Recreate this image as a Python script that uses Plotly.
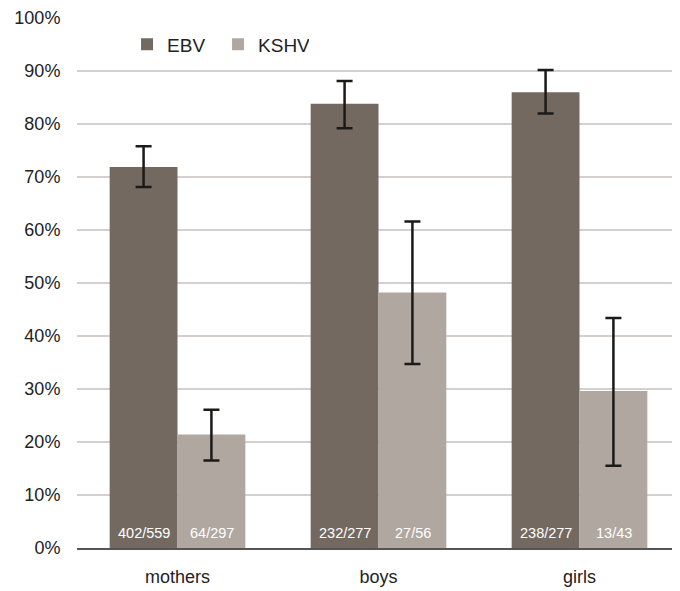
import plotly.graph_objects as go

categories = ["mothers", "boys", "girls"]
ebv_values = [71.9, 83.8, 86.0]
ebv_upper = [75.8, 88.1, 90.2]
ebv_lower = [68.1, 79.2, 82.0]
ebv_labels = ["402/559", "232/277", "238/277"]
kshv_values = [21.4, 48.2, 29.6]
kshv_upper = [26.1, 61.6, 43.4]
kshv_lower = [16.5, 34.7, 15.5]
kshv_labels = ["64/297", "27/56", "13/43"]
y_ticks = [0, 10, 20, 30, 40, 50, 60, 70, 80, 90, 100]
y_tick_labels = [f"{v}%" for v in y_ticks]

FONT = "Liberation Sans, Arial, Helvetica, sans-serif"
EBV_COLOR = "#736961"
KSHV_COLOR = "#b0a7a1"
ERR_COLOR = "#1c1a19"


def make_bar(name, vals, up, lo, color):
    return go.Bar(
        name=name,
        x=categories,
        y=vals,
        marker=dict(color=color, line=dict(width=0)),
        error_y=dict(
            type="data",
            symmetric=False,
            array=[u - v for u, v in zip(up, vals)],
            arrayminus=[v - l for v, l in zip(vals, lo)],
            color=ERR_COLOR,
            thickness=2.5,
            width=8,
        ),
        hoverinfo="skip",
    )


fig = go.Figure()
fig.add_trace(make_bar("EBV", ebv_values, ebv_upper, ebv_lower, EBV_COLOR))
fig.add_trace(make_bar("KSHV", kshv_values, kshv_upper, kshv_lower, KSHV_COLOR))

# count labels at the bottom of each bar
for cat, lab in zip(categories, ebv_labels):
    fig.add_annotation(x=cat, y=0, text=lab, showarrow=False, xshift=-34,
                       yanchor="bottom", yshift=5,
                       font=dict(family=FONT, size=14.5, color="white"))
for cat, lab in zip(categories, kshv_labels):
    fig.add_annotation(x=cat, y=0, text=lab, showarrow=False, xshift=34,
                       yanchor="bottom", yshift=5,
                       font=dict(family=FONT, size=14.5, color="white"))

fig.update_layout(
    width=672,
    height=583,
    margin=dict(l=69, r=0, t=10, b=43),
    paper_bgcolor="white",
    plot_bgcolor="white",
    barmode="group",
    bargap=0.325,
    bargroupgap=0,
    font=dict(family=FONT, color="#222222"),
    legend=dict(
        orientation="h",
        x=0.083,
        xanchor="left",
        y=0.95,
        yanchor="middle",
        font=dict(family=FONT, size=19, color="#222222"),
        bgcolor="rgba(0,0,0,0)",
        itemwidth=30,
        entrywidth=46,
        entrywidthmode="pixels",
        traceorder="normal",
    ),
    xaxis=dict(
        showgrid=False,
        showline=True,
        linecolor="#555555",
        linewidth=1.5,
        ticks="outside",
        ticklen=12,
        tickcolor="rgba(0,0,0,0)",
        tickfont=dict(family=FONT, size=18, color="#222222"),
        range=[-0.5, 2.5],
    ),
    yaxis=dict(
        range=[0, 100],
        tickmode="array",
        tickvals=y_ticks,
        ticktext=y_tick_labels,
        showgrid=True,
        gridcolor="#d6d0cc",
        gridwidth=1.5,
        zeroline=False,
        showline=False,
        ticks="outside",
        ticklen=12,
        tickcolor="rgba(0,0,0,0)",
        tickfont=dict(family=FONT, size=18, color="#222222"),
    ),
)

fig.write_html("out.html")
